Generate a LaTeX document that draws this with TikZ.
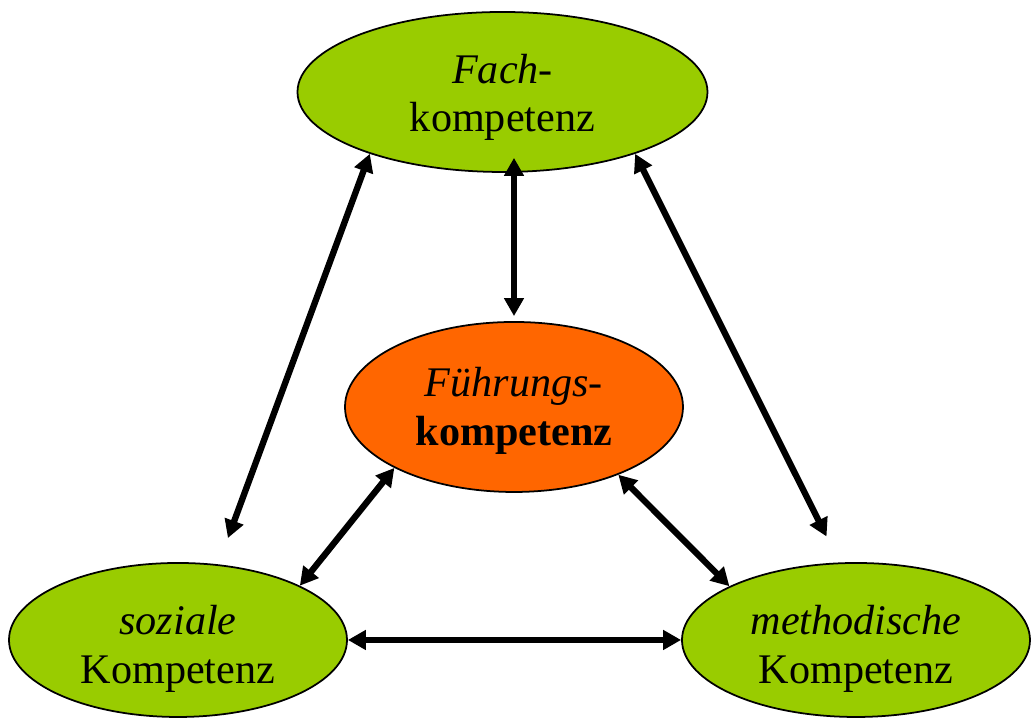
\documentclass[tikz,border=0pt]{standalone}
\usepackage{fontspec}
\setmainfont{Liberation Serif}
\usetikzlibrary{shapes.geometric,arrows.meta}
\definecolor{gruen}{HTML}{99CC00}
\definecolor{fuehrorange}{HTML}{FF6600}
\begin{document}
\begin{tikzpicture}[every node/.style={font=\fontsize{12}{13.8}\selectfont},
    kompetenz/.style={ellipse, draw, line width=0.5pt, fill=gruen, inner sep=0pt, align=center},
    pfeil/.style={{Triangle[length=0.18cm,width=0.19cm]}-{Triangle[length=0.18cm,width=0.19cm]}, line width=1.8pt}]
    \useasboundingbox (0,0) rectangle (10.35,7.2);

    % Ellipsen
    \node[kompetenz, minimum width=4.1cm, minimum height=1.6cm] (fach) at (5.025,6.28) {\rule{0pt}{0.40cm}\textit{Fach-}\\kompetenz};
    \node[kompetenz, fill=fuehrorange, minimum width=3.38cm, minimum height=1.7cm] (fuehr) at (5.14,3.13) {\rule{0pt}{0.37cm}\textit{Führungs-}\\\textbf{kompetenz}};
    \node[kompetenz, minimum width=3.38cm, minimum height=1.54cm] (sozial) at (1.78,0.8) {\rule{0pt}{0.47cm}\textit{soziale}\\Kompetenz};
    \node[kompetenz, minimum width=3.48cm, minimum height=1.54cm] (method) at (8.56,0.8) {\rule{0pt}{0.47cm}\textit{methodische}\\Kompetenz};

    % Pfeile
    \draw[pfeil, shorten <=-0.15cm, shorten >=0.05cm] (fach.south -| fuehr.north) -- (fuehr.north);
    \draw[pfeil, shorten >=0.28cm] (fach.205) -- (sozial.62);
    \draw[pfeil, shorten >=0.29cm] (fach.335) -- (method.102);
    \draw[pfeil] (fuehr.207) -- (sozial.24);
    \draw[pfeil] (fuehr.327) -- (method.157);
    \draw[pfeil] (sozial.east) -- (method.west);
  \end{tikzpicture}
\end{document}
